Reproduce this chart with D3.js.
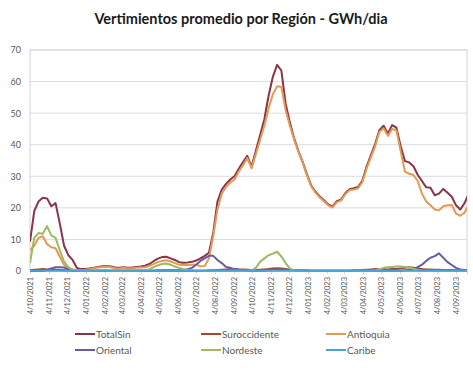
<!DOCTYPE html>
<html>
<head>
<meta charset="utf-8">
<script src="https://cdn.jsdelivr.net/npm/d3@7"></script>
<style>
  body { margin: 0; background: #fff; }
  svg { display: block; font-family: Lato, "Open Sans", sans-serif; }
</style>
</head>
<body>
<svg id="chart" width="473" height="388"></svg>
<script>
// Weekly average spill (GWh/day) per region, starting 4 Oct 2021
const startDate = new Date(2021, 9, 4);
const weekCount = 104;

const totalSin = [
  9.3, 19, 22, 23.2, 23, 20.5, 21.5, 15, 8, 5, 3.5, 1, 0.6, 0.6,
  0.8, 1.0, 1.3, 1.5, 1.6, 1.4, 1.1, 1.0, 1.2, 1.0, 1.1, 1.3, 1.4, 1.7,
  2.2, 3.1, 3.9, 4.4, 4.5, 4.0, 3.5, 2.8, 2.6, 2.7, 2.9, 3.3, 4.0, 4.8, 5.8,
  12, 22, 25.8, 27.6, 29, 30, 32.4, 34.5, 36.5, 33, 38, 43, 48, 55.5, 61.5, 65.3, 63.5,
  53, 47, 42, 38, 34.6, 30.6, 27.1, 25.1, 23.6, 22.4, 21.1, 20.4,
  22.1, 22.6, 24.6, 25.9, 26.2, 26.6, 28.6, 33.1, 36.6, 40.2, 44.6,
  46.0, 43.5, 46.2, 45.4, 39.5, 34.8, 34.4, 33.2, 30.5, 28.5, 26.5, 26.4, 24, 24.5, 26, 24.8, 23.5, 20.8, 19.5, 21.5, 24.5
];

const suroccidente = [
  0.2, 0.4, 0.5, 0.6, 0.5, 0.4, 0.4, 0.3, 0.2, 0.2, 0.1, 0.1, 0.1, 0.1,
  0.1, 0.1, 0.1, 0.1, 0.1, 0.1, 0.1, 0.1, 0.1, 0.1, 0.1, 0.1, 0.1, 0.1,
  0.1, 0.1, 0.2, 0.2, 0.2, 0.2, 0.2, 0.1, 0.1, 0.1, 0.1, 0.1, 0.1, 0.1, 0.2,
  0.2, 0.3, 0.4, 0.5, 0.6, 0.6, 0.5, 0.5, 0.4, 0.3, 0.3, 0.4, 0.5, 0.6, 0.8, 0.9, 0.8,
  0.6, 0.4, 0.3, 0.2, 0.2, 0.2, 0.1, 0.1, 0.1, 0.1, 0.1, 0.1,
  0.1, 0.1, 0.1, 0.1, 0.2, 0.2, 0.3, 0.4, 0.5, 0.6, 0.5,
  0.6, 0.5, 0.6, 0.6, 0.8, 1.0, 1.2, 1.0, 0.8, 0.6, 0.5, 0.5, 0.4, 0.4, 0.3, 0.3, 0.3, 0.2, 0.2, 0.2, 0.2
];

const antioquia = [
  6.6, 8, 10.5, 11, 8.5, 7.5, 7.2, 4.5, 2, 1, 0.5, 0.3, 0.3, 0.4,
  0.6, 0.9, 1.1, 1.3, 1.4, 1.2, 0.9, 0.8, 1.0, 0.8, 0.9, 1.0, 1.1, 1.2,
  1.6, 2.2, 2.8, 3.2, 3.4, 3.0, 2.5, 2.0, 1.9, 1.9, 2.0, 2.0, 1.5, 1.6, 4.0,
  11, 19.5, 24.5, 26.6, 28, 29, 31.5, 33.5, 35.8, 32.5, 37, 41.5, 46, 51.5, 56, 58.5, 58.3,
  51, 46, 41.6, 37.7, 34.3, 30.3, 26.8, 24.8, 23.3, 22.1, 20.8, 20.1,
  21.8, 22.3, 24.3, 25.6, 25.8, 26.2, 28.1, 32.4, 36, 39.5, 44,
  45.2, 42.8, 45, 44.5, 38, 31.5, 30.8, 30.4, 28.5, 24.5, 22, 20.8, 19.5, 19.2, 20.5, 20.8, 20.9, 18.2, 17.5, 18.5, 21
];

const oriental = [
  0, 0, 0, 0, 0.3, 0.8, 1.2, 1.2, 1.1, 0.5, 0.2, 0.1, 0.1, 0.1,
  0.1, 0.1, 0.1, 0.1, 0.1, 0.1, 0.1, 0.1, 0.1, 0.1, 0.1, 0.1, 0.1, 0.1,
  0.1, 0.1, 0.1, 0.1, 0.1, 0.1, 0.1, 0.2, 0.3, 0.6, 1.0, 2.0, 3.2, 4.0, 4.8,
  4.8, 3.5, 2.5, 1.3, 1.0, 0.6, 0.4, 0.2, 0.1, 0.1, 0.1, 0.1, 0.1, 0.2, 0.3, 0.4, 0.4,
  0.4, 0.3, 0.2, 0.1, 0.1, 0.1, 0.1, 0.1, 0.1, 0.1, 0.1, 0.1,
  0.1, 0.1, 0.1, 0.1, 0.1, 0.1, 0.1, 0.1, 0.1, 0.1, 0.1,
  0.1, 0.1, 0.1, 0.1, 0.1, 0.2, 0.3, 0.4, 1.2, 2.0, 3.2, 4.2, 4.7, 5.6, 4.2, 2.8, 1.9, 1.0, 0.5, 0.3, 0.2
];

const nordeste = [
  2.5, 10.5, 12, 11.8, 14.2, 11.3, 10.5, 6.5, 3, 1.2, 0.4, 0.2, 0.1, 0.1,
  0.1, 0.1, 0.2, 0.2, 0.2, 0.1, 0.1, 0.1, 0.1, 0.1, 0.1, 0.1, 0.2, 0.3,
  0.5, 1.2, 1.8, 2.2, 2.4, 2.0, 1.4, 1.0, 0.6, 0.3, 0.2, 0.1, 0.1, 0.1, 0.1,
  0.1, 0.1, 0.1, 0.1, 0.1, 0.1, 0.1, 0.1, 0.1, 0.2, 1.0, 2.9, 4.0, 5.0, 5.5, 6.1, 4.6,
  2.5, 0.8, 0.2, 0.1, 0.1, 0.1, 0.1, 0.1, 0.1, 0.1, 0.1, 0.1,
  0.1, 0.1, 0.1, 0.1, 0.1, 0.1, 0.1, 0.1, 0.1, 0.2, 0.5,
  1.0, 1.2, 1.3, 1.4, 1.4, 1.3, 1.1, 0.7, 0.3, 0.1, 0.1, 0.1, 0.1, 0.1, 0.1, 0.1, 0.1, 0.1, 0.1, 0.1, 0.1
];

const caribe = [
  0.1, 0.1, 0.1, 0.1, 0.1, 0.1, 0.1, 0.1, 0.1, 0.1, 0.1, 0.1, 0.1, 0.1,
  0.1, 0.1, 0.1, 0.1, 0.1, 0.1, 0.1, 0.1, 0.1, 0.1, 0.1, 0.1, 0.1, 0.1,
  0.1, 0.1, 0.1, 0.1, 0.1, 0.1, 0.1, 0.1, 0.1, 0.1, 0.1, 0.1, 0.1, 0.1, 0.1,
  0.1, 0.1, 0.1, 0.1, 0.1, 0.1, 0.1, 0.1, 0.1, 0.1, 0.1, 0.1, 0.1, 0.1, 0.1, 0.1, 0.1,
  0.1, 0.1, 0.1, 0.1, 0.1, 0.1, 0.1, 0.1, 0.1, 0.1, 0.1, 0.1,
  0.1, 0.1, 0.1, 0.1, 0.1, 0.1, 0.1, 0.1, 0.1, 0.1, 0.1,
  0.1, 0.1, 0.1, 0.1, 0.1, 0.1, 0.1, 0.1, 0.1, 0.1, 0.1, 0.1, 0.1, 0.1, 0.1, 0.1, 0.1, 0.1, 0.1, 0.1, 0.1
];

const seriesNames = ["TotalSin", "Suroccidente", "Antioquia", "Oriental", "Nordeste", "Caribe"];
const seriesColors = ["#8a3447", "#a0463a", "#e39b52", "#6a5aa6", "#9dbb5e", "#4aa3d8"];
const seriesValues = [totalSin, suroccidente, antioquia, oriental, nordeste, caribe];
const yTicks = [0, 10, 20, 30, 40, 50, 60, 70];

const title = "Vertimientos promedio por Región - GWh/dia";

const svg = d3.select("#chart");
const plot = { left: 30, right: 467, top: 50, bottom: 271 };

const dates = d3.range(weekCount).map(i => d3.timeDay.offset(startDate, 7 * i));

const x = d3.scaleTime()
  .domain([startDate, new Date(2023, 8, 22)])
  .range([plot.left, plot.right]);
const y = d3.scaleLinear().domain([0, 70]).range([plot.bottom, plot.top]);

svg.append("defs").append("clipPath").attr("id", "plot-clip")
  .append("rect")
  .attr("x", plot.left).attr("y", plot.top - 5)
  .attr("width", plot.right - plot.left).attr("height", plot.bottom - plot.top + 10);

// Title
svg.append("text")
  .attr("x", 241).attr("y", 24)
  .attr("text-anchor", "middle")
  .attr("font-size", 14.5).attr("font-weight", 700)
  .attr("fill", "#1a1a1a")
  .text(title);

// Horizontal gridlines
svg.append("g").selectAll("line").data(yTicks).join("line")
  .attr("x1", plot.left).attr("x2", plot.right)
  .attr("y1", d => y(d)).attr("y2", d => y(d))
  .attr("stroke", "#dcdcdc").attr("stroke-width", 1);

// Plot-area frame
svg.append("rect")
  .attr("x", plot.left).attr("y", plot.top)
  .attr("width", plot.right - plot.left).attr("height", plot.bottom - plot.top)
  .attr("fill", "none").attr("stroke", "#d6d6d6").attr("stroke-width", 1);

// Y axis labels
const yAxis = d3.axisLeft(y).tickValues(yTicks).tickSize(0).tickPadding(9);
const gy = svg.append("g").attr("transform", `translate(${plot.left},0)`).call(yAxis);
gy.select(".domain").remove();
gy.selectAll("text").attr("font-size", 9).attr("fill", "#595959")
  .attr("font-family", "Lato, sans-serif");

// X axis: monthly ticks, rotated labels
const monthTicks = d3.timeMonth.range(new Date(2021, 9, 1), new Date(2023, 8, 2))
  .map(d => new Date(d.getFullYear(), d.getMonth(), 4));
const fmt = d3.timeFormat("%-d/%m/%Y");
const xAxis = d3.axisBottom(x).tickValues(monthTicks).tickFormat(fmt).tickSize(3).tickPadding(2);
const gx = svg.append("g").attr("transform", `translate(0,${plot.bottom})`).call(xAxis);
gx.select(".domain").attr("stroke", "#d6d6d6");
gx.selectAll(".tick line").attr("stroke", "#d6d6d6");
gx.selectAll("text")
  .attr("font-size", 7.5).attr("fill", "#595959")
  .attr("font-family", "Lato, sans-serif")
  .attr("text-anchor", "end")
  .attr("transform", "rotate(-90)")
  .attr("x", -6).attr("y", 0).attr("dy", "0.35em");

// Series lines
const line = d3.line()
  .x((d, i) => x(dates[i]))
  .y(d => y(d));

svg.append("g").attr("clip-path", "url(#plot-clip)")
  .selectAll("path").data(d3.range(seriesNames.length)).join("path")
  .attr("d", k => line(seriesValues[k]))
  .attr("fill", "none")
  .attr("stroke", k => seriesColors[k])
  .attr("stroke-width", 2)
  .attr("stroke-linejoin", "round");

// Legend (two rows of three)
const legendCols = [75, 201, 326];
const legendRows = [334, 350];
const legend = svg.append("g").selectAll("g").data(seriesNames).join("g")
  .attr("transform", (d, i) => `translate(${legendCols[i % 3]},${legendRows[Math.floor(i / 3)]})`);
legend.append("line")
  .attr("x1", 0).attr("x2", 20).attr("y1", 0).attr("y2", 0)
  .attr("stroke", (d, i) => seriesColors[i]).attr("stroke-width", 2);
legend.append("text")
  .attr("x", 21).attr("y", 0).attr("dy", "0.35em")
  .attr("font-size", 10).attr("fill", "#595959")
  .text(d => d);
</script>
</body>
</html>
